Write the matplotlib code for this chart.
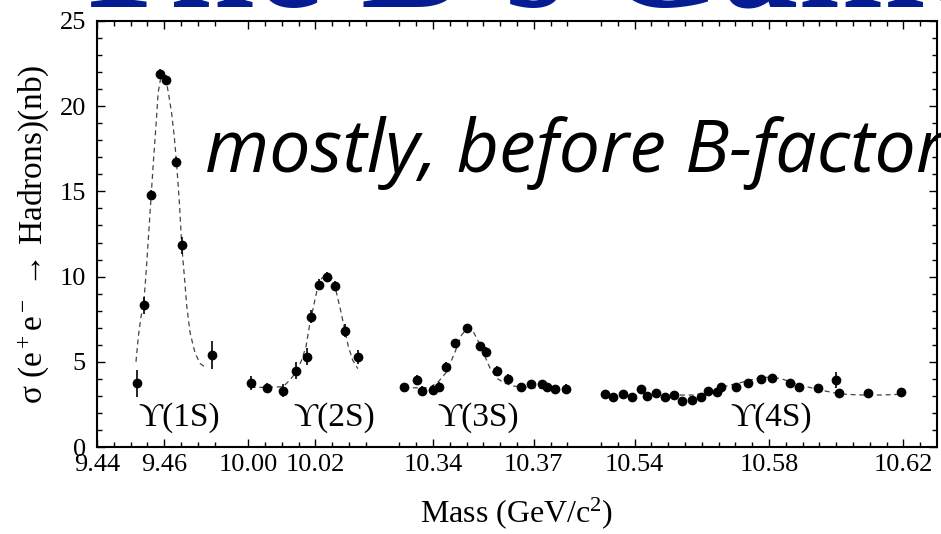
import numpy as np
import matplotlib
matplotlib.use('Agg')
import matplotlib.pyplot as plt

plt.rcParams['font.family'] = ['Liberation Serif', 'DejaVu Serif']
plt.rcParams['mathtext.fontset'] = 'custom'
plt.rcParams['mathtext.rm'] = 'Liberation Serif'
plt.rcParams['mathtext.it'] = 'Liberation Serif:italic'

# the mass axis is four windows put side by side
MASS_KNOTS = [9.44, 9.48, 9.995, 10.04, 10.325, 10.385, 10.525, 10.63]
AXIS_KNOTS = [0.0, 0.04, 0.04, 0.085, 0.085, 0.145, 0.145, 0.25]

# Upsilon(1S) scan
m1 = [9.4518, 9.4539, 9.4561, 9.4588, 9.4604, 9.4635, 9.4652, 9.4743]
s1 = [3.74, 8.33, 14.79, 21.87, 21.54, 16.74, 11.85, 5.40]
e1 = [0.8, 0.5, 0.3, 0.3, 0.3, 0.3, 0.5, 0.8]
fit1_m = [9.4516, 9.4523, 9.4531, 9.4539, 9.4546, 9.4553, 9.4561, 9.4568, 9.4576,
          9.4582, 9.4590, 9.4597, 9.4605, 9.4614, 9.4622, 9.4630, 9.4637, 9.4645,
          9.4652, 9.4660, 9.4667, 9.4677, 9.4692, 9.4707, 9.4721]
fit1_s = [5.0, 6.5, 7.65, 8.4, 10.2, 12.3, 14.7, 16.8, 19.0,
          20.8, 21.7, 22.0, 21.6, 20.6, 19.6, 18.2, 16.6, 14.4,
          11.9, 10.0, 8.3, 6.7, 5.5, 4.9, 4.7]

# Upsilon(2S) scan
m2 = [10.0007, 10.0057, 10.0104, 10.0143, 10.0174, 10.0186, 10.0212, 10.0235,
      10.0258, 10.0288, 10.0326]
s2 = [3.74, 3.48, 3.31, 4.48, 5.30, 7.65, 9.53, 9.99, 9.45, 6.83, 5.30]
e2 = [0.4, 0.3, 0.4, 0.5, 0.5, 0.4, 0.3, 0.3, 0.3, 0.4, 0.4]
fit2_m = [10.0007, 10.0055, 10.0104, 10.0124, 10.0144, 10.0159, 10.0172, 10.0184,
          10.0196, 10.0206, 10.0219, 10.0234, 10.0249, 10.0261, 10.0273, 10.0285,
          10.0298, 10.0311, 10.0326]
fit2_s = [3.50, 3.50, 3.54, 3.93, 4.42, 5.1, 5.9, 7.3,
          8.4, 9.3, 9.9, 10.1, 9.9, 9.2, 8.2, 7.1,
          5.9, 5.1, 4.6]

# Upsilon(3S) scan
m3 = [10.3314, 10.3352, 10.3368, 10.3401, 10.3419, 10.3439, 10.3466, 10.3500,
      10.3540, 10.3558, 10.3590, 10.3622, 10.3661, 10.3693, 10.3724, 10.3738,
      10.3762, 10.3796]
s3 = [3.50, 3.93, 3.30, 3.34, 3.54, 4.71, 6.08, 7.00,
      5.93, 5.56, 4.46, 3.97, 3.50, 3.70, 3.70, 3.50,
      3.39, 3.39]
e3 = [0.2, 0.3, 0.3, 0.3, 0.3, 0.3, 0.2, 0.2,
      0.2, 0.3, 0.3, 0.3, 0.2, 0.2, 0.2, 0.2,
      0.2, 0.3]
fit3_m = [10.3314, 10.3366, 10.3391, 10.3416, 10.3441, 10.3466, 10.3485, 10.3502,
          10.3520, 10.3538, 10.3555, 10.3570, 10.3590, 10.3614, 10.3639, 10.3669,
          10.3718]
fit3_s = [3.50, 3.46, 3.50, 3.83, 4.42, 5.6, 6.57, 6.97,
          6.77, 6.08, 5.3, 4.62, 4.03, 3.74, 3.58, 3.50,
          3.46]

# Upsilon(4S) scan
m4 = [10.5312, 10.5337, 10.5365, 10.5391, 10.5419, 10.5436, 10.5464, 10.5490,
      10.5517, 10.5542, 10.5572, 10.5597, 10.5619, 10.5644, 10.5656, 10.5702,
      10.5737, 10.5776, 10.5808, 10.5862, 10.5889, 10.5945, 10.5999, 10.6009,
      10.6096, 10.6192]
s4 = [3.09, 2.91, 3.09, 2.91, 3.38, 2.99, 3.19, 2.91,
      3.05, 2.70, 2.76, 2.91, 3.29, 3.25, 3.54, 3.54,
      3.74, 3.97, 4.07, 3.74, 3.50, 3.44, 3.93, 3.15,
      3.15, 3.21]
e4 = [0.15, 0.15, 0.15, 0.15, 0.2, 0.15, 0.15, 0.15,
      0.15, 0.15, 0.15, 0.15, 0.15, 0.15, 0.2, 0.2,
      0.2, 0.2, 0.15, 0.15, 0.2, 0.2, 0.45, 0.2,
      0.2, 0.2]
fit4_m = [10.5535, 10.5575, 10.5604, 10.5634, 10.5674, 10.5714, 10.5753, 10.5793,
          10.5833, 10.5872, 10.5912, 10.5952, 10.5991, 10.6031, 10.6081, 10.6130,
          10.6190]
fit4_s = [3.05, 3.05, 3.15, 3.35, 3.58, 3.77, 3.97, 4.09,
          4.03, 3.77, 3.54, 3.35, 3.19, 3.09, 3.05, 3.05,
          3.09]

peak_names = ['ϒ(1S)', 'ϒ(2S)', 'ϒ(3S)', 'ϒ(4S)']
peak_label_m = [9.4644, 10.0255, 10.3534, 10.5806]

major_ticks = [9.44, 9.46, 10.00, 10.02, 10.34, 10.37, 10.54, 10.58, 10.62]
major_labels = ['9.44', '9.46', '10.00', '10.02', '10.34', '10.37', '10.54', '10.58', '10.62']


def to_axis(m):
    return np.interp(m, MASS_KNOTS, AXIS_KNOTS)


def from_axis(u):
    return np.interp(u, AXIS_KNOTS, MASS_KNOTS)


fig = plt.figure(figsize=(9.41, 5.34), dpi=100)
ax = fig.add_axes([0.1031, 0.1629, 0.8926, 0.7978])
ax.set_xscale('function', functions=(to_axis, from_axis))

for m, s, e, fm, fs in [(m1, s1, e1, fit1_m, fit1_s), (m2, s2, e2, fit2_m, fit2_s),
                        (m3, s3, e3, fit3_m, fit3_s), (m4, s4, e4, fit4_m, fit4_s)]:
    ax.plot(fm, fs, color='#444444', lw=0.9, dashes=(4, 3))
    ax.errorbar(m, s, yerr=e, fmt='o', color='black', ms=6, elinewidth=1.2, capsize=0)

for name, xm in zip(peak_names, peak_label_m):
    ax.text(xm, 1.7, name, ha='center', va='center', fontsize=24)

ax.set_xlim(9.44, 10.63)
ax.set_ylim(0, 25)

# minor ticks every 5 MeV inside each window
minor = np.concatenate([np.arange(9.445, 9.4776, 0.005), np.arange(10.005, 10.0376, 0.005),
                        np.arange(10.33, 10.3826, 0.005), np.arange(10.53, 10.6276, 0.005)])
ax.set_xticks(major_ticks)
ax.set_xticklabels(major_labels)
ax.set_xticks(minor, minor=True)
ax.set_yticks([0, 5, 10, 15, 20, 25])
ax.set_yticks(np.arange(0, 26, 1), minor=True)

ax.tick_params(which='both', direction='in', top=True, right=True, width=1.0, labelsize=19)
ax.tick_params(which='major', length=6)
ax.tick_params(which='minor', length=3.5)
ax.tick_params(axis='y', pad=8)
ax.tick_params(axis='x', pad=5)
for sp in ax.spines.values():
    sp.set_linewidth(1.5)

ax.set_xlabel('Mass (GeV/c$^2$)', fontsize=23, labelpad=14)
ax.set_ylabel('σ (e$^+$e$^-$ → Hadrons)(nb)', fontsize=24, labelpad=6)

# slide heading and comment on top of the plot
fig.text(68 / 941, 1 - 7 / 534, "The B's Game", fontsize=110, fontweight='bold',
         color='#061c93', ha='left', va='baseline')
fig.text(205 / 941, 1 - 172 / 534, 'mostly, before B-factories', fontsize=53,
         family=['Open Sans', 'DejaVu Sans'], style='italic', color='black',
         ha='left', va='baseline')

fig.savefig('out.png', dpi=100)
